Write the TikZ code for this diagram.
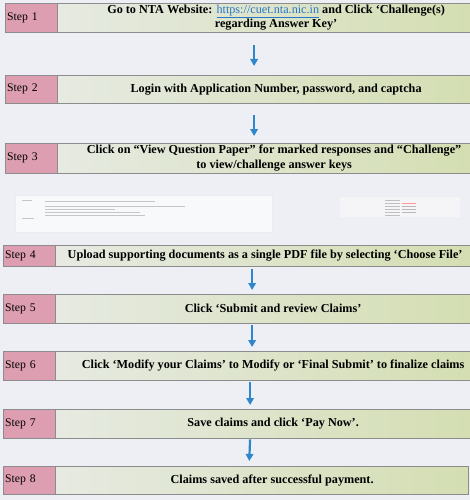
\documentclass[tikz,border=0pt]{standalone}
\usepackage{fontspec}
\setmainfont{Liberation Serif}
\usetikzlibrary{arrows.meta,positioning}
\definecolor{pagebg}{RGB}{238,239,244}
\definecolor{steppink}{RGB}{222,158,178}
\definecolor{boxleft}{RGB}{230,234,226}
\definecolor{boxright}{RGB}{212,222,178}
\definecolor{boxline}{RGB}{140,140,140}
\definecolor{flowblue}{RGB}{46,134,203}
\definecolor{linkblue}{RGB}{40,120,200}
\tikzset{
  steplabel/.style={
    rectangle, draw=boxline, fill=steppink, anchor=north west,
    minimum width=52pt, inner xsep=2pt, text width=48pt, align=left,
    font=\fontsize{11.7}{13}\selectfont
  },
  stepbox/.style={
    rectangle, draw=boxline, left color=boxleft, right color=boxright,
    anchor=west, inner sep=0pt
  },
  steptext/.style={
    align=center, inner sep=1pt,
    font=\fontsize{12.2}{14.5}\selectfont\bfseries
  },
  flow arrow/.style={-{Triangle[length=7pt,width=7.5pt]}, line width=2.2pt, flowblue},
  shot/.style={draw=gray!15, fill=white!60!pagebg}
}
\begin{document}
\begin{tikzpicture}[x=1pt,y=-1pt]
    \useasboundingbox (0,0) rectangle (470,500);
    \fill[pagebg] (0,0) rectangle (470,500);
    % step rows
    \node[steplabel, minimum height=29pt] (s1) at (5,3) {Step 1};
    \node[stepbox, minimum width=413pt, minimum height=29pt, right=0pt of s1] (b1) {};
    \node[steptext] (t1) at ([xshift=12pt]b1.center)
      {Go to NTA Website: \textcolor{linkblue}{\mdseries\underline{https://cuet.nta.nic.in}} and Click ‘Challenge(s)\\regarding Answer Key’};
    \node[steplabel, minimum height=28pt] (s2) at (5,75) {Step 2};
    \node[stepbox, minimum width=413pt, minimum height=28pt, right=0pt of s2] (b2) {};
    \node[steptext] (t2) at ([xshift=12pt]b2.center) {Login with Application Number, password, and captcha};
    \node[steplabel, minimum height=30pt] (s3) at (5,143) {Step 3};
    \node[stepbox, minimum width=413pt, minimum height=30pt, right=0pt of s3] (b3) {};
    \node[steptext] (t3) at ([xshift=10pt]b3.center)
      {Click on “View Question Paper” for marked responses and “Challenge”\\to view/challenge answer keys};
    \node[steplabel, minimum height=21pt] (s4) at (3,245) {Step 4};
    \node[stepbox, minimum width=415pt, minimum height=21pt, right=0pt of s4] (b4) {};
    \node[steptext] (t4) at ([xshift=2pt]b4.center) {Upload supporting documents as a single PDF file by selecting ‘Choose File’};
    \node[steplabel, minimum height=29pt] (s5) at (3,294) {Step 5};
    \node[stepbox, minimum width=415pt, minimum height=29pt, right=0pt of s5] (b5) {};
    \node[steptext] (t5) at ([xshift=10pt]b5.center) {Click ‘Submit and review Claims’};
    \node[steplabel, minimum height=29pt] (s6) at (3,351) {Step 6};
    \node[stepbox, minimum width=415pt, minimum height=29pt, right=0pt of s6] (b6) {};
    \node[steptext] (t6) at ([xshift=10pt]b6.center) {Click ‘Modify your Claims’ to Modify or ‘Final Submit’ to finalize claims};
    \node[steplabel, minimum height=29pt] (s7) at (3,409) {Step 7};
    \node[stepbox, minimum width=415pt, minimum height=29pt, right=0pt of s7] (b7) {};
    \node[steptext] (t7) at ([xshift=10pt]b7.center) {Save claims and click ‘Pay Now’.};
    \node[steplabel, minimum height=28pt] (s8) at (3,466) {Step 8};
    \node[stepbox, minimum width=413pt, minimum height=28pt, right=0pt of s8] (b8) {};
    \node[steptext] (t8) at ([xshift=10pt]b8.center) {Claims saved after successful payment.};
    % arrows
    \draw[flow arrow, shorten <=13pt, shorten >=9pt] ([xshift=-10pt]b1.south) -- ([xshift=-10pt]b2.north);
    \draw[flow arrow, shorten <=12pt, shorten >=7pt] ([xshift=-10pt]b2.south) -- ([xshift=-10pt]b3.north);
    \draw[flow arrow, shorten <=3pt, shorten >=4pt] ([xshift=-11pt]b4.south) -- ([xshift=-11pt]b5.north);
    \draw[flow arrow, shorten <=2pt, shorten >=4pt] ([xshift=-11pt]b5.south) -- ([xshift=-11pt]b6.north);
    \draw[flow arrow, shorten <=2pt, shorten >=4pt] ([xshift=-13pt]b6.south) -- ([xshift=-13pt]b7.north);
    \draw[flow arrow, shorten <=1pt, shorten >=5pt] ([xshift=-13pt]b7.south) -- ([xshift=-13pt]b8.north);
    % faint screenshot strip between step 3 and step 4
    \draw[shot] (15,195) rectangle (272,232);
    \foreach \y/\w in {201/110, 206/140, 209/70, 212/95, 215/100}
      \draw[gray!45, line width=0.6pt] (45,\y) -- ++(\w,0);
    \draw[gray!45, line width=0.6pt] (22,200) -- ++(10,0) (22,218) -- ++(12,0);
    \draw[shot, draw=none, fill=white!40!pagebg] (340,197) rectangle (460,217);
    \foreach \y in {200,203,206,209,212,215}
      \draw[gray!50, line width=0.6pt] (385,\y) -- ++(15,0);
    \draw[red!40, line width=1pt] (402,203) -- ++(14,0);
    \foreach \y in {206,209,212}
      \draw[gray!55, line width=0.8pt] (402,\y) -- ++(14,0);
\end{tikzpicture}
\end{document}
